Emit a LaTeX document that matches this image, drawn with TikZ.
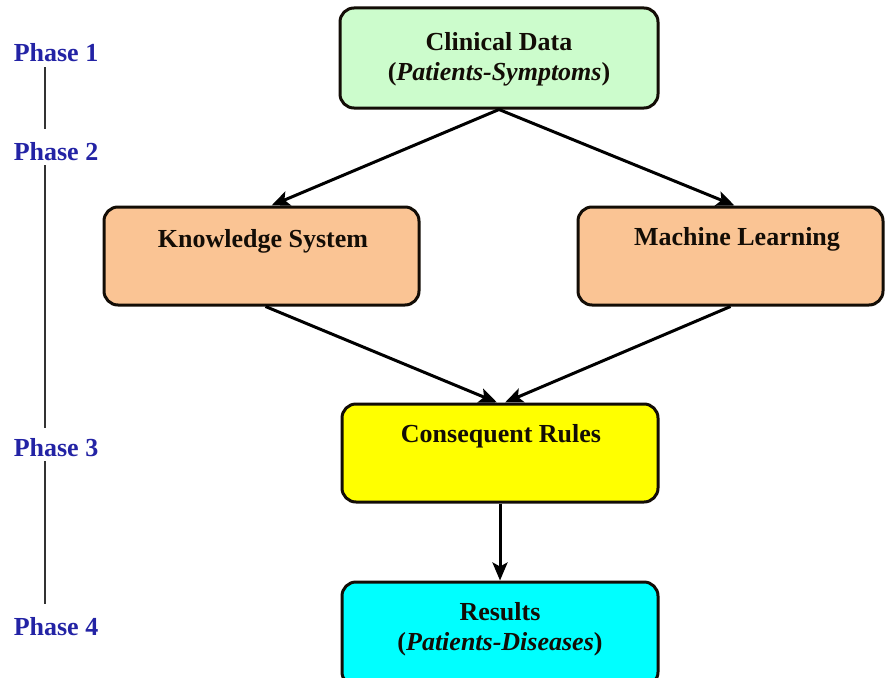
\documentclass[tikz,border=0pt]{standalone}
\usepackage{fontspec}
\setmainfont{Liberation Serif}
\usetikzlibrary{arrows.meta,calc}
\definecolor{boxgreen}{HTML}{CCFCCC}
\definecolor{boxorange}{HTML}{FAC494}
\definecolor{boxyellow}{HTML}{FFFF00}
\definecolor{boxcyan}{HTML}{00FFFF}
\definecolor{phaseblue}{RGB}{35,35,165}
\begin{document}
\begin{tikzpicture}[x=1pt,y=-1pt,
  box/.style={draw=black!90!brown, line width=3pt, rounded corners=14pt, inner sep=0pt},
  lbl/.style={anchor=base, inner sep=0pt, font=\fontsize{26}{30}\selectfont\bfseries, text=black!90!brown},
  phase/.style={anchor=base, inner sep=5pt, font=\fontsize{26}{30}\selectfont\bfseries, text=phaseblue},
  arr/.style={line width=3pt, -{Stealth[length=18pt,width=15pt,inset=4pt]}},
  pline/.style={line width=1.5pt, draw=black!80, shorten >=8pt}]
\useasboundingbox (0,0) rectangle (885,677);
\fill[white] (0,0) rectangle (885,677);

% boxes
\node[box, fill=boxgreen, minimum width=318pt, minimum height=100pt] (cd) at (499,58) {};
\node[box, fill=boxorange, minimum width=315pt, minimum height=98pt] (ks) at (261.5,256) {};
\node[box, fill=boxorange, minimum width=305pt, minimum height=98pt] (ml) at (730.5,256) {};
\node[box, fill=boxyellow, minimum width=316pt, minimum height=98pt] (cr) at (500,453) {};
\node[box, fill=boxcyan, minimum width=316pt, minimum height=104pt] (rs) at (500,634) {};

% box texts
\node[lbl] (cdt1) at (499,50) {Clinical Data};
\node[lbl] (cdt2) at (499,80) {(\textit{Patients-Symptoms})};
\node[lbl] (kst) at (263,247) {Knowledge System};
\node[lbl] (mlt) at (737,245) {Machine Learning};
\node[lbl] (crt) at (501,442) {Consequent Rules};
\node[lbl] (rst1) at (500,620) {Results};
\node[lbl] (rst2) at (500,650) {(\textit{Patients-Diseases})};

% arrows
\draw[arr] (cd.south) -- ($(ks.north)+(10,0)$);
\draw[arr] (cd.south) -- ($(ml.north)+(4,0)$);
\draw[arr] ($(ks.south)+(4,0)$) -- ($(cr.north)+(-3,0)$);
\draw[arr] (ml.south) -- ($(cr.north)+(5,0)$);
\draw[arr] (cr.south) -- (rs.north);

% phases
\node[phase] (p1) at (56,62) {Phase 1};
\node[phase] (p2) at (56,160) {Phase 2};
\node[phase] (p3) at (56,456) {Phase 3};
\node[phase] (p4) at (56,635) {Phase 4};
\draw[pline] (p1.south -| 45,0) -- (p2.north -| 45,0);
\draw[pline, shorten >=5pt] (p2.south -| 45,0) -- (p3.north -| 45,0);
\draw[pline] (p3.south -| 45,0) -- (p4.north -| 45,0);
\end{tikzpicture}
\end{document}
